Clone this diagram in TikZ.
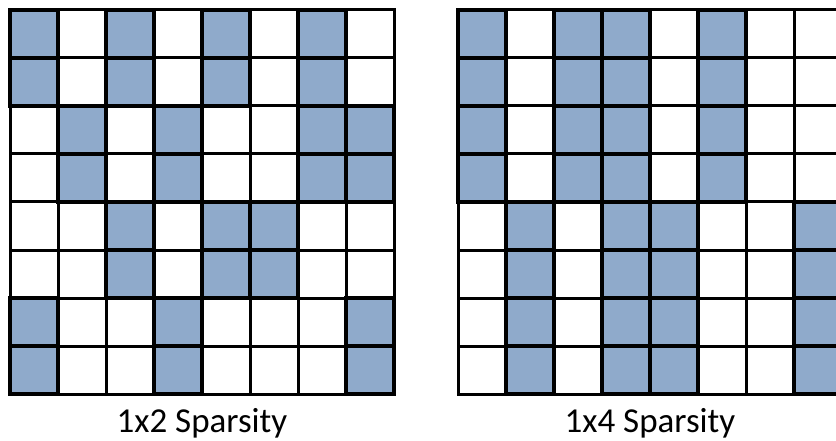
\documentclass[tikz,border=0pt]{standalone}
\usepackage{fontspec}
\setmainfont{Carlito}
\definecolor{cellblue}{RGB}{143,170,203}
\begin{document}
\begin{tikzpicture}[x=1pt,y=-1pt,
  gridline/.style={line width=3pt, line cap=rect},
  blockcell/.style={fill=cellblue, draw=black, line width=4.6pt},
  caption/.style={font=\fontsize{35}{42}\selectfont, anchor=base, inner sep=0pt}]
\clip (0,0) rectangle (836,441);
\fill[white] (0,0) rectangle (836,441);
% left grid (1x2)
\foreach \i in {0,...,8} {
  \draw[gridline] (10+48*\i,10) -- (10+48*\i,394);
  \draw[gridline] (10,10+48*\i) -- (394,10+48*\i);
}
\foreach \c/\r in {0/0,2/0,4/0,6/0, 1/2,3/2,6/2,7/2, 2/4,4/4,5/4, 0/6,3/6,7/6} {
  \foreach \k in {0,1} {
    \draw[blockcell] (10+48*\c,10+48*\r+48*\k) rectangle ++(48,48);
  }
}
% right grid (1x4)
\foreach \i in {0,...,8} {
  \draw[gridline] (458+48*\i,10) -- (458+48*\i,394);
  \draw[gridline] (458,10+48*\i) -- (842,10+48*\i);
}
\foreach \c/\r in {0/0,2/0,3/0,5/0, 1/4,3/4,4/4,7/4} {
  \foreach \k in {0,1,2,3} {
    \draw[blockcell] (458+48*\c,10+48*\r+48*\k) rectangle ++(48,48);
  }
}
\node[caption] (capA) at (202,432) {1x2 Sparsity};
\node[caption] (capB) at (650,432) {1x4 Sparsity};
\end{tikzpicture}
\end{document}
